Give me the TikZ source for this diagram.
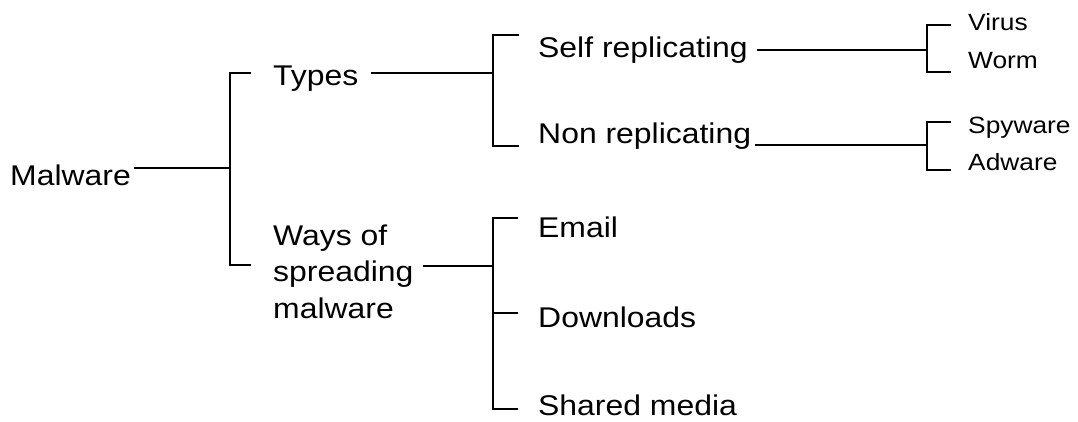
\documentclass[tikz,border=0pt]{standalone}
\usepackage{fontspec}
\setmainfont[FakeStretch=1.12]{Liberation Sans}
\usetikzlibrary{calc}

\tikzset{
  big/.style={anchor=base west, inner sep=0pt, font=\fontsize{28.5}{36.5}\selectfont},
  small/.style={anchor=base west, inner sep=0pt, font=\fontsize{23.5}{28}\selectfont},
  wire/.style={line width=2pt, line cap=rect, black},
}

\begin{document}
\begin{tikzpicture}[x=1pt, y=-1pt]
  \useasboundingbox (0,0) rectangle (1078,421);

  % labels (a multi-line node sits on the baseline of its last line)
  \node[big] (malware) at (10,185) {Malware};
  \node[big] (types)   at (273,85) {Types};
  \node[big, align=left] (ways) at (273,318) {Ways of\\spreading\\malware};
  \node[big] (self)    at (538,57)  {Self replicating};
  \node[big] (non)     at (538,143) {Non replicating};
  \node[big] (email)   at (538,237) {Email};
  \node[big] (down)    at (538,327) {Downloads};
  \node[big] (shared)  at (538,415) {Shared media};
  \node[small] (virus) at (968,30)  {Virus};
  \node[small] (worm)  at (968,68)  {Worm};
  \node[small] (spy)   at (968,133) {Spyware};
  \node[small] (ad)    at (968,170) {Adware};

  % bracket junctions on the spines
  \coordinate (jm) at (230,168);
  \coordinate (jt) at (493,73);
  \coordinate (jw) at (493,266);
  \coordinate (js) at (927,50);
  \coordinate (jn) at (927,145);

  % stub ends next to each child
  \coordinate (st)  at (250,73);
  \coordinate (sw)  at (250,265);
  \coordinate (ss)  at (518,35);
  \coordinate (sn)  at (518,146);
  \coordinate (se)  at (517,218);
  \coordinate (sd)  at (517,313);
  \coordinate (sm)  at (517,409);
  \coordinate (sv)  at (950,25);
  \coordinate (swo) at (950,72);
  \coordinate (ssp) at (950,122);
  \coordinate (sad) at (950,170);

  % Malware
  \draw[wire] ([xshift=4pt]malware.east |- jm) -- (jm);
  \draw[wire] (st) -| (jm) |- (sw);

  % Types
  \draw[wire] ([xshift=13pt]types.east |- jt) -- (jt);
  \draw[wire] (ss) -| (jt) |- (sn);

  % Ways of spreading malware
  \draw[wire] ([xshift=10pt]ways.east |- jw) -- (jw);
  \draw[wire] (se) -| (jw) |- (sm);
  \draw[wire] (jw |- sd) -- (sd);

  % Self replicating
  \draw[wire] ([xshift=10pt]self.east |- js) -- (js);
  \draw[wire] (sv) -| (js) |- (swo);

  % Non replicating
  \draw[wire] ([xshift=5pt]non.east |- jn) -- (jn);
  \draw[wire] (ssp) -| (jn) |- (sad);
\end{tikzpicture}
\end{document}
